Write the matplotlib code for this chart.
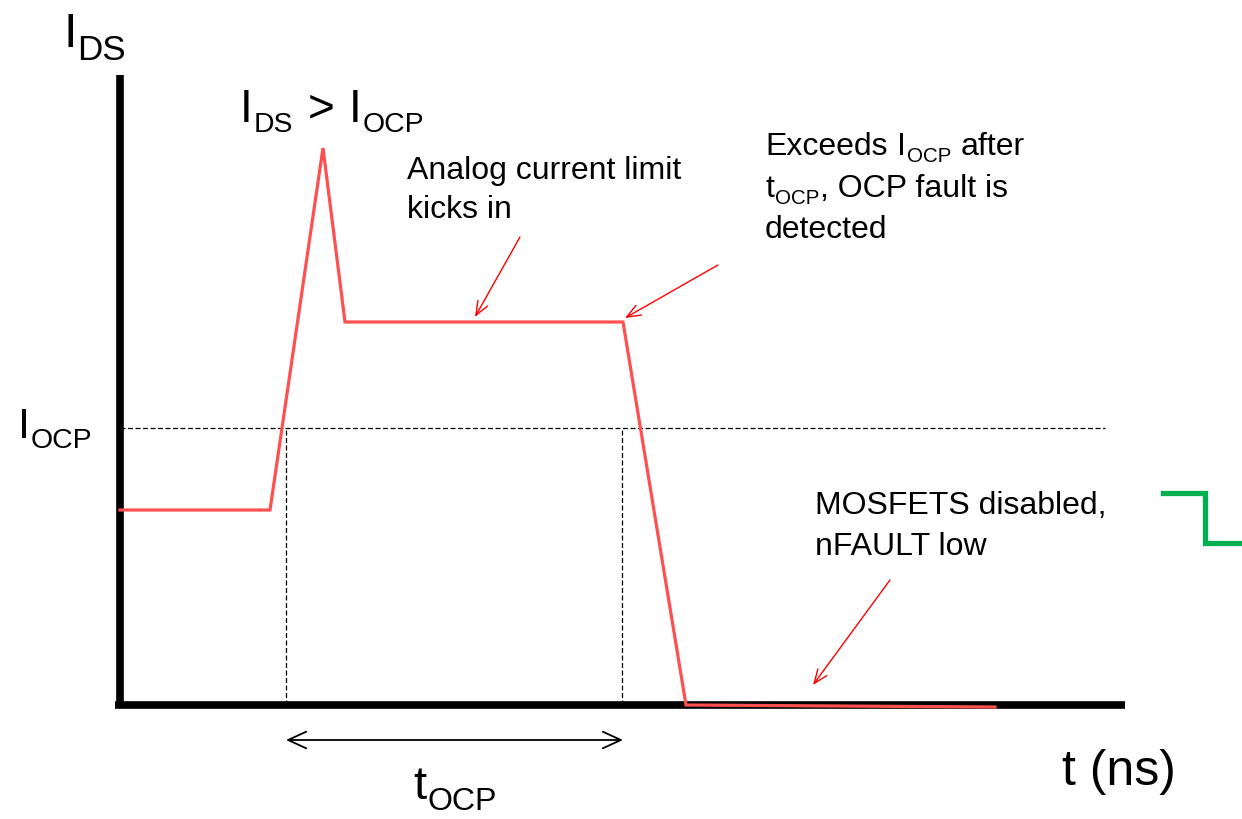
import matplotlib
matplotlib.use("Agg")
import matplotlib.pyplot as plt
from matplotlib import transforms

plt.rcParams["font.family"] = ["Liberation Sans", "DejaVu Sans"]

# waveform of I_DS over time (arbitrary units)
t_wave = [0, 150, 203, 225, 503, 566, 875]
i_wave = [195, 195, 557, 383, 383, 0, -2]
i_ocp = 277
t_ocp_start = 166
t_ocp_end = 502
t_axis_end = 1005
i_axis_top = 630

# nFAULT step (green)
t_fault = [1043, 1085, 1085, 1122]
v_fault = [212, 212, 162, 162]

# annotation arrows: (tail t, tail i, head t, head i)
arrows = [
    (400, 468, 355, 388),
    (598, 440, 505, 387),
    (770, 125, 693, 20),
]

fig = plt.figure(figsize=(12.42, 8.19), dpi=100)
ax = fig.add_axes([0, 0, 1, 1])
ax.set_xlim(-120, 1122)
ax.set_ylim(-114, 705)
ax.axis("off")
renderer = fig.canvas.get_renderer()


def rich_text(x, y, parts, size, sub=0.68, drop=0.23):
    """parts: list of (text, is_subscript, gap_before_in_em)"""
    px = fig.dpi / 72.0
    dx = 0.0
    for s, is_sub, gap in parts:
        dx += gap * size * px
        fs = size * sub if is_sub else size
        dy = -drop * size * px if is_sub else 0.0
        tr = transforms.offset_copy(ax.transData, fig=fig, x=dx, y=dy, units="dots")
        t = ax.text(x, y, s, fontsize=fs, va="baseline", ha="left", transform=tr)
        dx += t.get_window_extent(renderer).width + 0.02 * size * px


# axes lines
ax.plot([0, 0], [-3, i_axis_top], color="black", lw=5.5, solid_capstyle="butt")
ax.plot([-5, t_axis_end], [0, 0], color="black", lw=5.5, solid_capstyle="butt")

# I_OCP threshold + t_OCP markers
ax.plot([0, 985], [i_ocp, i_ocp], color="black", lw=0.9, ls=(0, (4, 2)))
for tv in (t_ocp_start, t_ocp_end):
    ax.plot([tv, tv], [0, i_ocp], color="black", lw=0.9, ls=(0, (4, 2)))

ax.annotate("", xy=(t_ocp_start, -35), xytext=(t_ocp_end + 1, -35),
            arrowprops=dict(arrowstyle="<->,head_length=1.3,head_width=0.6",
                            color="black", lw=1.3, mutation_scale=10,
                            shrinkA=0, shrinkB=0))

# waveform
ax.plot(t_wave, i_wave, color="#ff5050", lw=2.3, solid_joinstyle="miter")

# green step
ax.plot(t_fault, v_fault, color="#00b050", lw=3.8, solid_joinstyle="miter")

for x0, y0, x1, y1 in arrows:
    ax.annotate("", xy=(x1, y1), xytext=(x0, y0),
                arrowprops=dict(arrowstyle="->,head_length=1.0,head_width=0.4",
                                color="#ff0000", lw=1.0, mutation_scale=10,
                                shrinkA=0, shrinkB=0))

# labels
rich_text(-57, 658, [("I", False, 0), ("DS", True, 0)], 35, sub=0.72, drop=0.27)
rich_text(120, 583, [("I", False, 0), ("DS", True, 0), (">", False, 0.3),
                     ("I", False, 0.3), ("OCP", True, 0)], 33, sub=0.62, drop=0.22)
rich_text(-102, 267, [("I", False, 0), ("OCP", True, 0)], 31, sub=0.66, drop=0.23)
rich_text(293, -94, [("t", False, 0), ("OCP", True, 0)], 34, sub=0.68, drop=0.24)
ax.text(942, -80, "t (ns)", fontsize=36, va="baseline")

small = 23
ax.text(287, 526, "Analog current limit", fontsize=small, va="baseline")
ax.text(287, 487, "kicks in", fontsize=small, va="baseline")

rich_text(645, 550, [("Exceeds", False, 0), ("I", False, 0.28), ("OCP", True, 0),
                     ("after", False, 0.28)], small, sub=0.64, drop=0.22)
rich_text(645, 508, [("t", False, 0), ("OCP", True, 0),
                     (", OCP fault is", False, 0)], small, sub=0.64, drop=0.22)
ax.text(645, 467, "detected", fontsize=small, va="baseline")

ax.text(695, 191, "MOSFETS disabled,", fontsize=small, va="baseline")
ax.text(695, 150, "nFAULT low", fontsize=small, va="baseline")

fig.savefig("out.png", dpi=100)
